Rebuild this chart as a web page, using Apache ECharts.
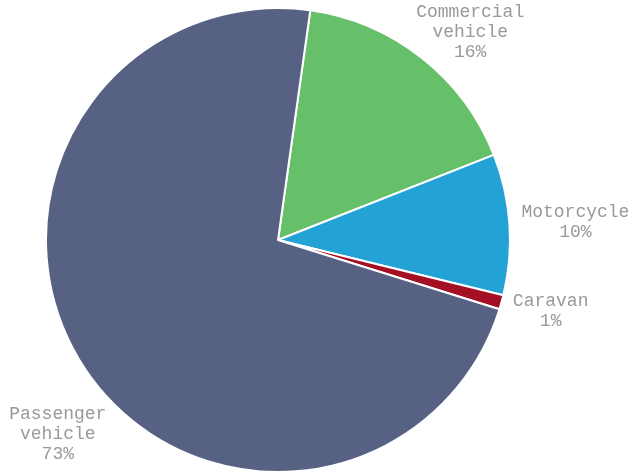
<!DOCTYPE html>
<html><head><meta charset="utf-8">
<script src="https://cdn.jsdelivr.net/npm/echarts@6/dist/echarts.min.js"></script>
<style>html,body{margin:0;padding:0;background:#fff}#c{width:638px;height:474px}</style>
</head><body><div id="c"></div>
<script>
var categories = ['Commercial\nvehicle', 'Motorcycle', 'Caravan', 'Passenger\nvehicle'];
var values = [16.8, 9.8, 1.0, 72.4];
var percentLabels = ['16%', '10%', '1%', '73%'];
var colors = ['#66bf69', '#23a2d6', '#a50f23', '#566184'];
var labelOffsets = [[17, 15], [15, 1], [0, -5], [19, 43]];

var cx = 278, cy = 240, R = 232, startAngle = 82;
var total = values.reduce(function(a, b){ return a + b; }, 0);
function midAngle(i){
  var cum = 0;
  for (var k = 0; k < i; k++) cum += values[k];
  return (startAngle - (cum + values[i] / 2) / total * 360) * Math.PI / 180;
}
var chart = echarts.init(document.getElementById('c'));
chart.setOption({
  animation: false,
  series: [{
    type: 'pie',
    center: [cx, cy],
    radius: [0, R],
    startAngle: startAngle,
    clockwise: true,
    data: categories.map(function(n, i){ return {name: n, value: values[i], itemStyle: {color: colors[i]}}; }),
    itemStyle: {borderColor: '#fff', borderWidth: 2},
    label: {
      show: true, position: 'outside', overflow: 'none',
      formatter: function(p){ return p.name + '\n' + percentLabels[p.dataIndex]; },
      fontFamily: "'Courier New', 'Liberation Mono', monospace",
      fontSize: 18, lineHeight: 20, color: '#999999'
    },
    labelLine: {show: false},
    emphasis: {disabled: true},
    labelLayout: function(p){
      var i = p.dataIndex, a = midAngle(i), r = R * 1.22;
      return {
        x: cx + r * Math.cos(a) + labelOffsets[i][0],
        y: cy - r * Math.sin(a) + labelOffsets[i][1],
        align: 'center', verticalAlign: 'middle'
      };
    }
  }]
});
</script></body></html>
